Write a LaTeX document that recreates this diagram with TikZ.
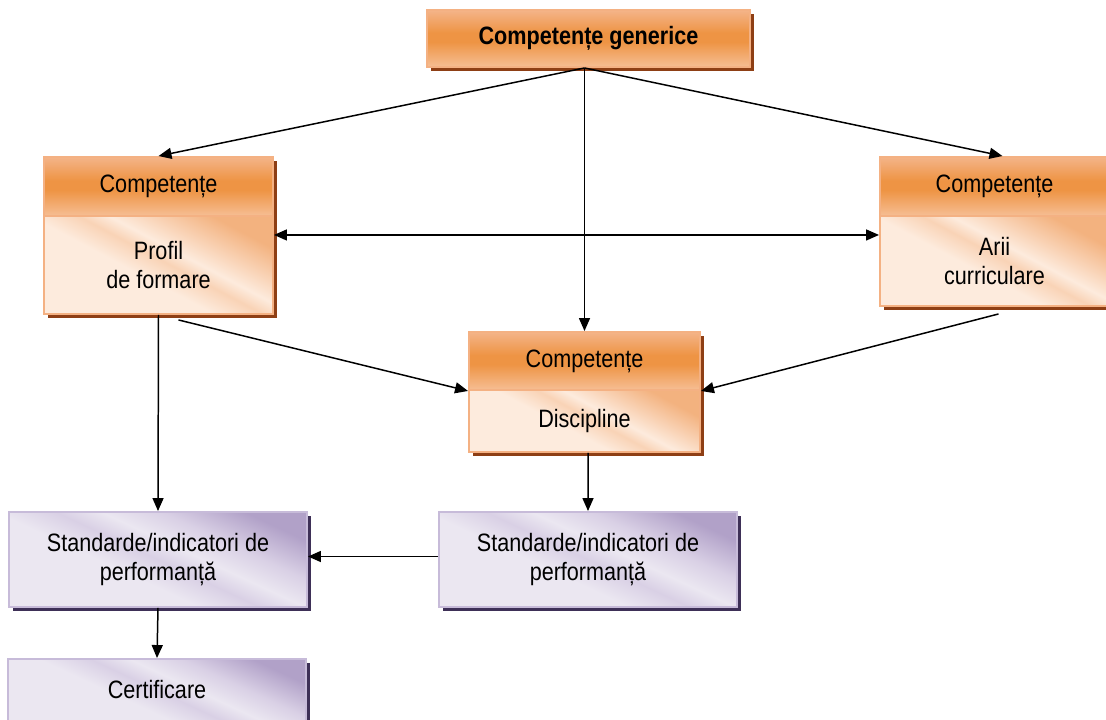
\documentclass[tikz,border=0pt]{standalone}
\usepackage{fontspec}
\setmainfont{Liberation Sans}[FakeStretch=0.86]
\usetikzlibrary{arrows.meta,shadows}

\newcommand\pxu{0.02cm}

% palette
\definecolor{ohtop}{HTML}{F4B489}
\definecolor{ohmid}{HTML}{EE9444}
\definecolor{ohbot}{HTML}{F6BE94}
\definecolor{pchlight}{HTML}{FDEBDD}
\definecolor{pchmid}{HTML}{F9D3B6}
\definecolor{pchdark}{HTML}{F3B27F}
\definecolor{orborder}{HTML}{F4B183}
\definecolor{orshadow}{HTML}{8E3F15}
\definecolor{pulight}{HTML}{EBE7F1}
\definecolor{pumid}{HTML}{D9D0E5}
\definecolor{pudark}{HTML}{B1A1C8}
\definecolor{puborder}{HTML}{C7BBD9}
\definecolor{pushadow}{HTML}{3E3057}

% gradients (0bp = bottom, the path is mapped onto 25bp..75bp)
\pgfdeclareverticalshading{orangehead}{100bp}{color(0bp)=(ohbot); color(25bp)=(ohbot); color(47bp)=(ohmid); color(55bp)=(ohmid); color(75bp)=(ohtop); color(100bp)=(ohtop)}
\pgfdeclareverticalshading{peachbody}{100bp}{color(0bp)=(pchlight); color(44bp)=(pchlight); color(52bp)=(pchmid); color(57bp)=(pchlight); color(64bp)=(pchmid); color(74bp)=(pchdark); color(100bp)=(pchdark)}
\pgfdeclareverticalshading{lilacbody}{100bp}{color(0bp)=(pulight); color(42bp)=(pulight); color(50bp)=(pumid); color(56bp)=(pulight); color(64bp)=(pumid); color(75bp)=(pudark); color(100bp)=(pudark)}

\tikzset{
  box/.style={rectangle, inner sep=0pt, align=center, text=black,
    font=\fontsize{14.3}{16.5}\selectfont},
  headbox/.style={box, shading=orangehead, draw=orborder, line width=1.1pt,
    drop shadow={shadow xshift=4*\pxu, shadow yshift=-4*\pxu, fill=orshadow, opacity=1}},
  bodybox/.style={box, shading=peachbody, shading angle=-28, draw=orborder, line width=1.1pt,
    drop shadow={shadow xshift=4*\pxu, shadow yshift=-4*\pxu, fill=orshadow, opacity=1}},
  stdbox/.style={box, shading=lilacbody, shading angle=-25, draw=puborder, line width=1.1pt,
    drop shadow={shadow xshift=4*\pxu, shadow yshift=-4*\pxu, fill=pushadow, opacity=1}},
  arr/.style={line width=0.85pt, -{Triangle[length=13*\pxu, width=11*\pxu]}},
  arrboth/.style={line width=0.85pt, {Triangle[length=13*\pxu, width=11*\pxu]}-{Triangle[length=13*\pxu, width=11*\pxu]}}
}

\begin{document}
\begin{tikzpicture}[x=0.02cm, y=-0.02cm]
\useasboundingbox (0,0) rectangle (1106,720);

% generic competences
\node[headbox, minimum width=323*\pxu, minimum height=57*\pxu, font=\fontsize{14.3}{16.5}\selectfont\bfseries]
  (top) at (588.5,38.5) {Competențe generice};

% training profile
\node[headbox, minimum width=229*\pxu, minimum height=59*\pxu] (lh) at (158.5,186.5) {Competențe};
\node[bodybox, minimum width=229*\pxu, minimum height=98*\pxu] (lb) at (158.5,265) {Profil\\de formare};

% curricular areas
\node[headbox, minimum width=229*\pxu, minimum height=59*\pxu] (rh) at (994.5,186.5) {Competențe};
\node[bodybox, minimum width=229*\pxu, minimum height=90*\pxu] (rb) at (994.5,261) {Arii\\curriculare};

% subjects
\node[headbox, minimum width=231*\pxu, minimum height=58*\pxu] (mh) at (584.5,361) {Competențe};
\node[bodybox, minimum width=231*\pxu, minimum height=62*\pxu] (mb) at (584.5,421) {Discipline};

% standards and certification
\node[stdbox, minimum width=298*\pxu, minimum height=95*\pxu] (lstd) at (158,559.5) {Standarde/indicatori de\\performanță};
\node[stdbox, minimum width=298*\pxu, minimum height=95*\pxu] (rstd) at (588,559.5) {Standarde/indicatori de\\performanță};
\node[stdbox, minimum width=298*\pxu, minimum height=62*\pxu] (cert) at (157,690) {Certificare};

% connectors
\coordinate (hub) at (mh.north |- top.south);
\draw[arr] (hub) -- (lh.north);
\draw[arr] (hub) -- (mh.north);
\draw[arr] (hub) -- ([xshift=8*\pxu]rh.north);
\draw[arrboth] ([yshift=-18*\pxu]lh.south east) -- ([yshift=-18*\pxu]rh.south west);
\draw[arr] ([xshift=20*\pxu, yshift=-5*\pxu]lb.south) -- (mh.south west);
\draw[arr] ([xshift=4*\pxu, yshift=-7*\pxu]rb.south) -- (mh.south east);
\draw[arr] (lb.south) -- (lstd.north);
\draw[arr] ([xshift=3.5*\pxu]mb.south) -- (rstd.north);
\draw[arr] ([yshift=3*\pxu]rstd.west) -- ([yshift=3*\pxu]lstd.east);
\draw[arr] (lstd.south) -- (cert.north);
\end{tikzpicture}
\end{document}
